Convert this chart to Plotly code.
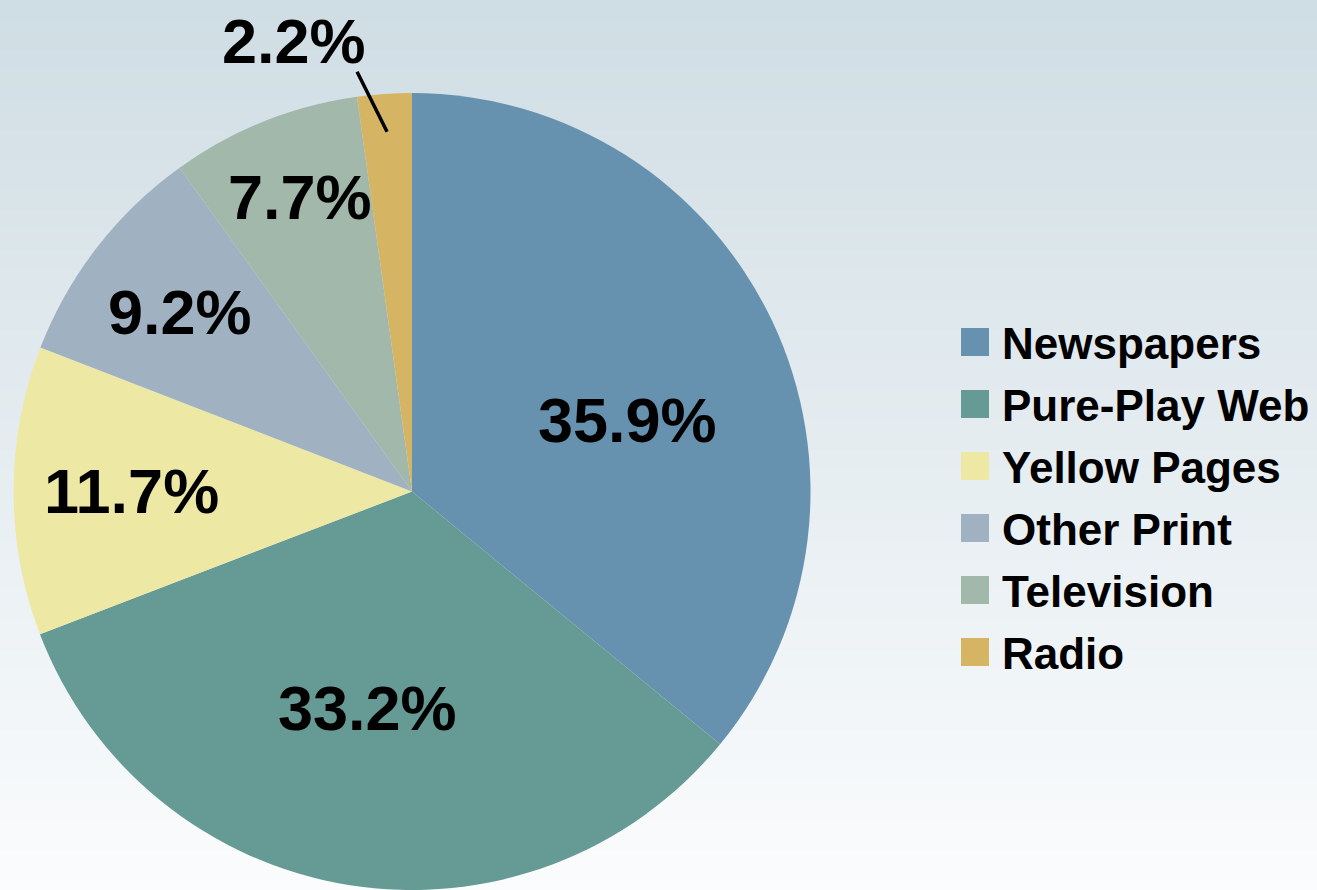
import math
import plotly.graph_objects as go

# ---- data ----
categories = ["Newspapers", "Pure-Play Web", "Yellow Pages", "Other Print", "Television", "Radio"]
shares = [35.9, 33.2, 11.7, 9.2, 7.7, 2.2]
colors = ["#6692B0", "#669A95", "#EDE9A5", "#A0B2C1", "#A1B8AB", "#D5B563"]

# ---- layout constants (styling) ----
W, H = 1317, 890
R = 398.5
CX = 412
CY = H - R
label_r = [0.57, 0.555, 0.705, 0.735, 0.79, 0.905]   # radial fraction for each label anchor
label_dtheta = [7.0, 2.5, 0.0, 0.0, 1.0, 0.0]        # angular nudge (deg) for each label
FONT = "Liberation Sans, Arial, sans-serif"

def px(x, y):
    return x / W, 1 - y / H

fig = go.Figure()
fig.add_trace(go.Pie(
    labels=categories, values=shares, sort=False, direction="clockwise", rotation=0,
    marker=dict(colors=colors, line=dict(width=0)),
    textinfo="none", hoverinfo="label+percent", showlegend=False,
    domain=dict(x=[(CX - R) / W, (CX + R) / W], y=[0, 2 * R / H]),
))

shapes = []
# background gradient (each band runs to the bottom so no seams show)
top = (207, 221, 228)
bot = (251, 252, 253)
n = 89
for i in range(n):
    t = (i + 0.5) / n
    c = tuple(round(top[k] + (bot[k] - top[k]) * t) for k in range(3))
    shapes.append(dict(type="rect", xref="paper", yref="paper", layer="below",
                       x0=0, x1=1, y0=1 - i / n, y1=0,
                       line=dict(width=0), fillcolor="rgb(%d,%d,%d)" % c))

annotations = []
total = sum(shares)
cum = 0.0
for i, (cat, v) in enumerate(zip(categories, shares)):
    mid = (cum + v / 2) / total * 360.0 + label_dtheta[i]
    cum += v
    r = label_r[i] * R
    x = CX + r * math.sin(math.radians(mid))
    y = CY - r * math.cos(math.radians(mid))
    txt = "<b>%.1f%%</b>" % v
    if i < len(categories) - 1:
        xp, yp = px(x, y)
        annotations.append(dict(x=xp, y=yp, xref="paper", yref="paper", text=txt,
                                showarrow=False, font=dict(family=FONT, size=63, color="black"),
                                xanchor="center", yanchor="middle"))
    else:
        # leader line + outside label
        x0, y0 = px(x, y)
        x1, y1 = px(x - 30, y - 60)
        shapes.append(dict(type="line", xref="paper", yref="paper", x0=x0, y0=y0, x1=x1, y1=y1,
                           line=dict(color="black", width=3.5)))
        xt, yt = px(x - 93, y - 91)
        annotations.append(dict(x=xt, y=yt, xref="paper", yref="paper", text=txt,
                                showarrow=False, font=dict(family=FONT, size=63, color="black"),
                                xanchor="center", yanchor="middle"))

# manual legend
LX0, LX1 = 961, 989
LY0, STEP = 342, 62
for i, (cat, col) in enumerate(zip(categories, colors)):
    yc = LY0 + i * STEP
    a0, b0 = px(LX0, yc - 14)
    a1, b1 = px(LX1, yc + 14)
    shapes.append(dict(type="rect", xref="paper", yref="paper", x0=a0, x1=a1, y0=b0, y1=b1,
                       line=dict(width=0), fillcolor=col))
    tx, ty = px(1000, yc + 1)
    annotations.append(dict(x=tx, y=ty, xref="paper", yref="paper", text="<b>%s</b>" % cat,
                            showarrow=False, font=dict(family=FONT, size=44, color="black"),
                            xanchor="left", yanchor="middle"))

fig.update_layout(
    width=W, height=H, margin=dict(l=0, r=0, t=0, b=0),
    paper_bgcolor="#FAFBFC", plot_bgcolor="rgba(0,0,0,0)",
    shapes=shapes, annotations=annotations, showlegend=False,
)
fig.write_html("out.html", config={"displayModeBar": False},
               post_script="document.body.style.margin='0';document.body.style.overflow='hidden';")
